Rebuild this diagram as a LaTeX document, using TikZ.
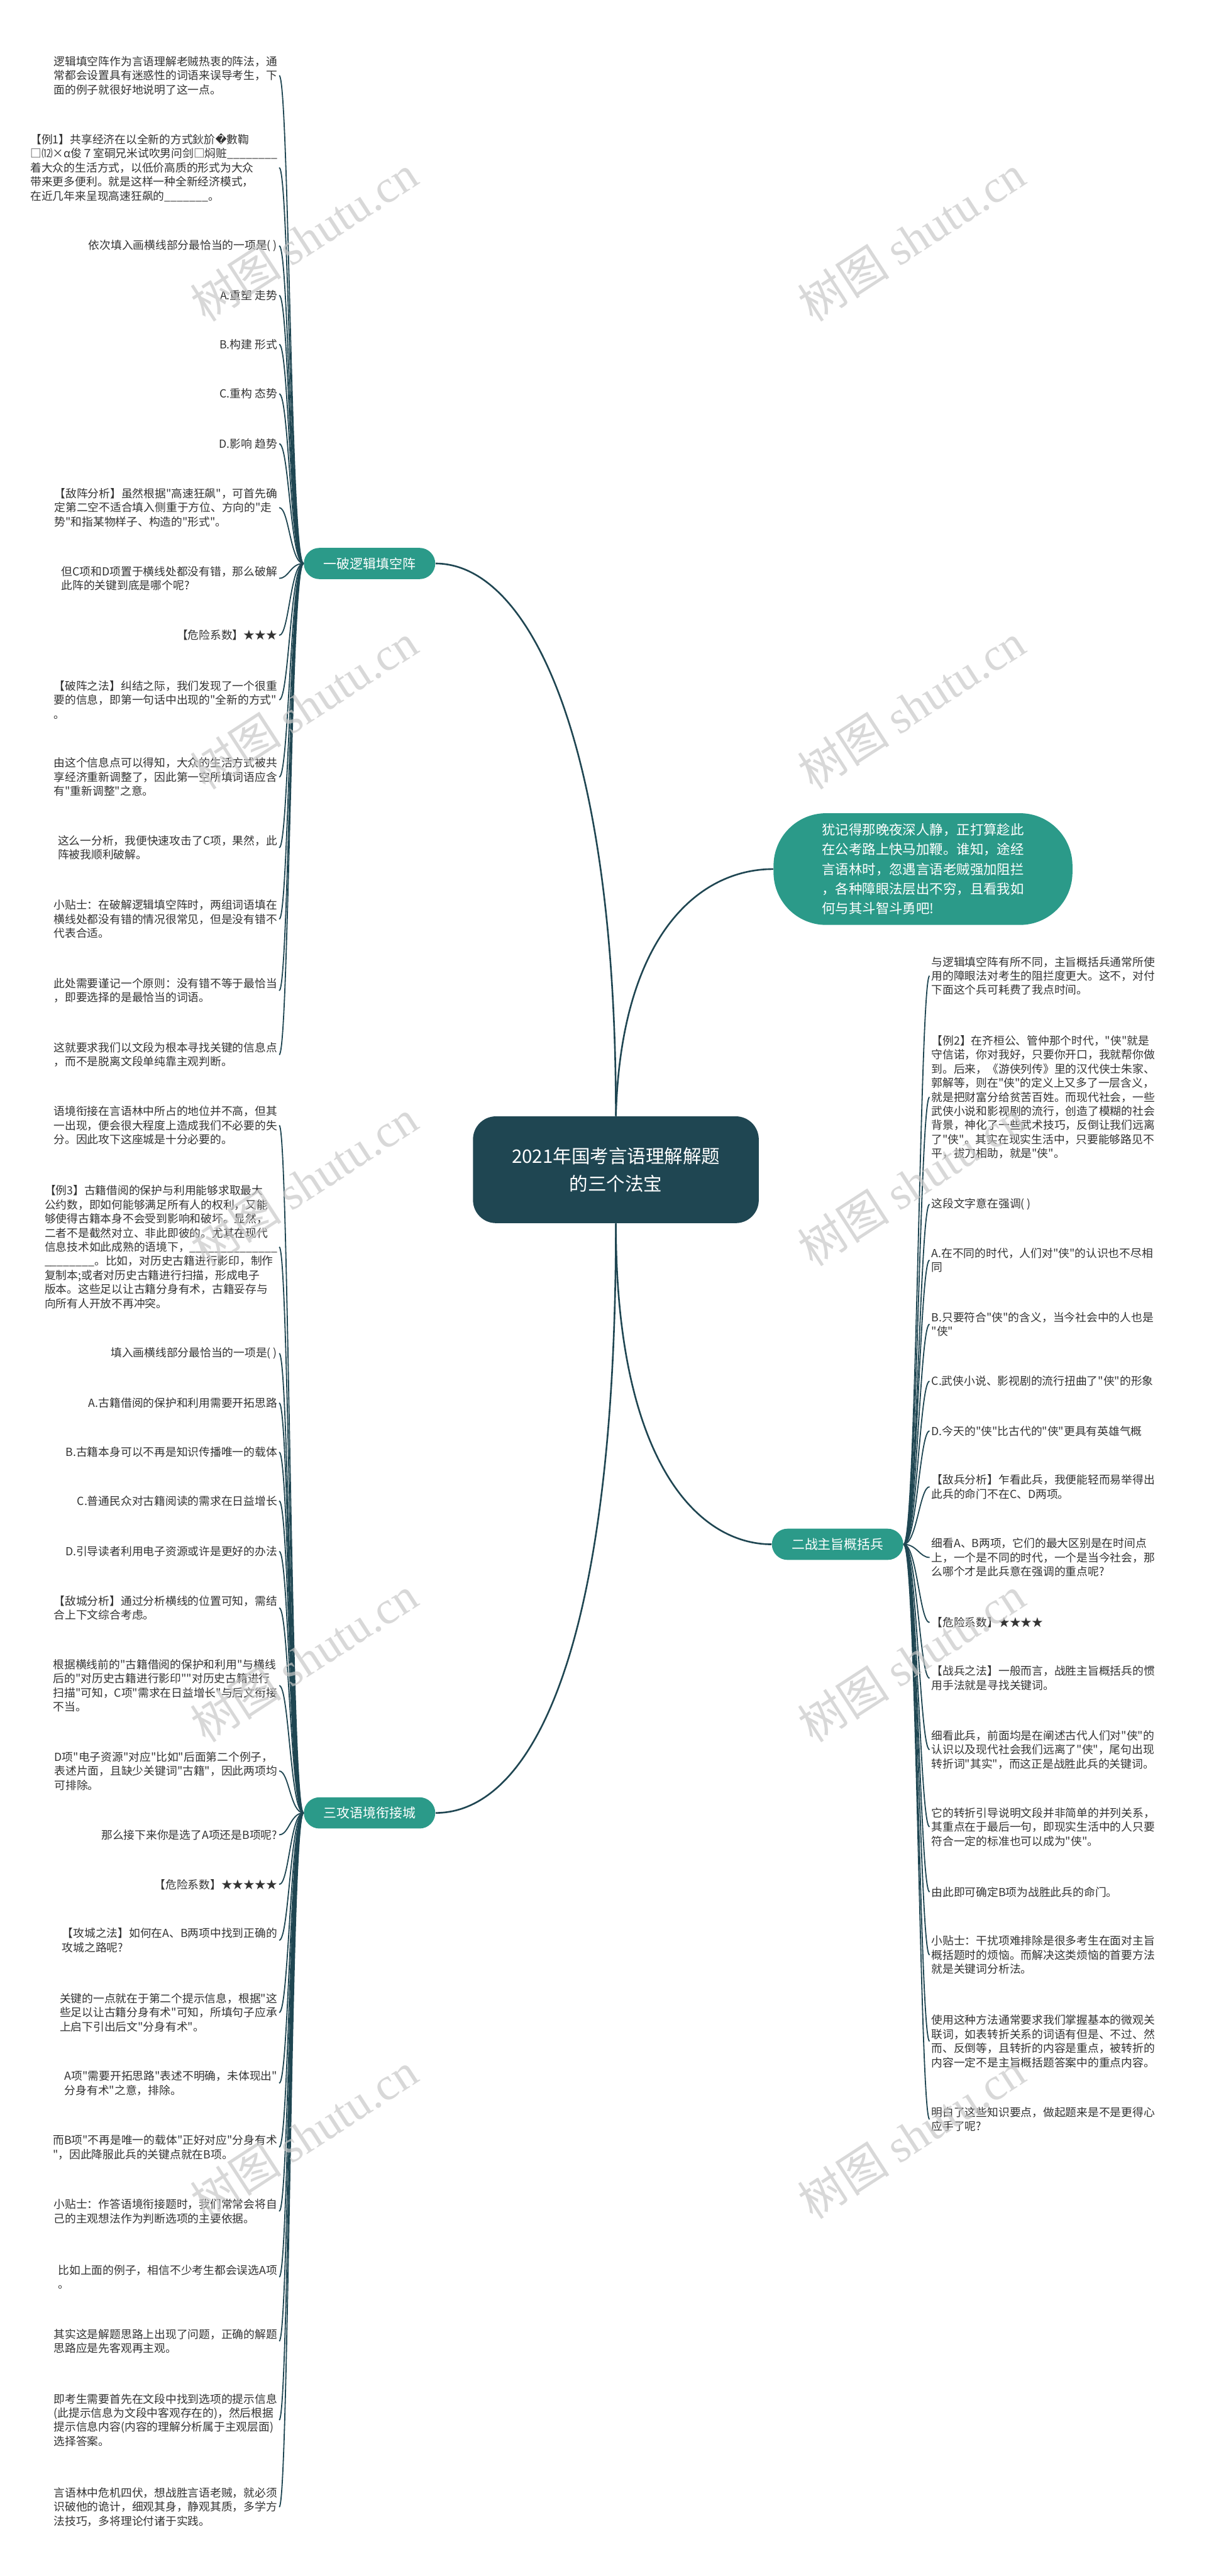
\documentclass[tikz,border=0pt]{standalone}
\usepackage{fontspec}
\setmainfont{Noto Sans CJK SC}
\newfontfamily\cjk{Noto Sans CJK SC}
\newfontfamily\dv{DejaVu Sans}
\newfontfamily\wmlat{Liberation Serif}
\usetikzlibrary{calc}
\definecolor{trunk}{HTML}{1F4652}
\definecolor{tealc}{HTML}{2B9A89}
\definecolor{txt}{HTML}{333333}
\definecolor{wm}{HTML}{C8C8C8}
\tikzset{
  leafL/.style={anchor=east, align=left, font=\cjk\fontsize{6.8}{8.6}\selectfont, text=txt, inner sep=1pt},
  leafR/.style={anchor=west, align=left, font=\cjk\fontsize{6.8}{8.6}\selectfont, text=txt, inner sep=1pt},
  twig/.style={draw=trunk, line width=0.7pt},
  limb/.style={draw=trunk, line width=1.0pt},
  pill/.style={fill=tealc, text=white, rounded corners=9.5pt, minimum height=19pt, minimum width=80pt, inner sep=0pt, font=\cjk\fontsize{8}{9}\selectfont},
  watermark/.style={text=wm, opacity=0.7, rotate=33, font=\cjk\fontsize{28}{30}\selectfont}
}
\newcommand\lleaf[4]{\node[leafL] (#2) at (170,#3) {#4};\draw[twig] (#1.west) .. controls +(-8,0) and +(6,0) .. (#2.east);}
\newcommand\rleaf[4]{\node[leafR] (#2) at (566,#3) {#4};\draw[twig] (#1.east) .. controls +(8,0) and +(-6,0) .. (#2.west);}
\newcommand\wmark[3]{\node[watermark] (#1) at (#2,#3) {树图 {\wmlat shutu.cn}};}
\begin{document}
\begin{tikzpicture}[x=1pt,y=-1pt]
\useasboundingbox (0,0) rectangle (736,1568);
\fill[white] (0,0) rectangle (736,1568);

% central node and branches
\node[fill=trunk, text=white, rounded corners=14pt, minimum width=174pt, minimum height=65pt, align=center, font=\cjk\fontsize{11.3}{17}\selectfont] (c) at (375,712) {2021年国考言语理解解题\\的三个法宝};
\node[pill] (b1) at (225,343) {一破逻辑填空阵};
\node[pill] (b2) at (510,940) {二战主旨概括兵};
\node[pill] (b3) at (225,1103.5) {三攻语境衔接城};
\node[fill=tealc, text=white, rounded corners=32pt, minimum width=182pt, minimum height=68pt, align=left, inner sep=0pt, font=\cjk\fontsize{8.2}{12}\selectfont] (bub) at (562,529) {犹记得那晚夜深人静，正打算趁此\\在公考路上快马加鞭。谁知，途经\\言语林时，忽遇言语老贼强加阻拦\\，各种障眼法层出不穷，且看我如\\何与其斗智斗勇吧!};

\draw[limb] (c.north) .. controls (375,450) and (322,343) .. (b1.east);
\draw[limb] (c.north) .. controls (378,570) and (425,529) .. (bub.west);
\draw[limb] (c.south) .. controls (375,890) and (425,940) .. (b2.west);
\draw[limb] (c.south) .. controls (375,1010) and (322,1103.5) .. (b3.east);

% branch 1 leaves
\lleaf{b1}{la}{46}{逻辑填空阵作为言语理解老贼热衷的阵法，通\\常都会设置具有迷惑性的词语来误导考生，下\\面的例子就很好地说明了这一点。}
\lleaf{b1}{lb}{102}{【例1】共享经济在以全新的方式鈥斺{\dv �}數鞫\\□⑿×α俊７室硐兄米试吹男问剑□焖赃\_\_\_\_\_\_\_\_\\着大众的生活方式，以低价高质的形式为大众\\带来更多便利。就是这样一种全新经济模式，\\在近几年来呈现高速狂飙的\_\_\_\_\_\_\_。}
\lleaf{b1}{lc}{149.6}{依次填入画横线部分最恰当的一项是( )}
\lleaf{b1}{ld}{179.8}{A.重塑 走势}
\lleaf{b1}{le}{209.6}{B.构建 形式}
\lleaf{b1}{lf}{239.7}{C.重构 态势}
\lleaf{b1}{lg}{270.1}{D.影响 趋势}
\lleaf{b1}{lh}{309}{【敌阵分析】虽然根据"高速狂飙"，可首先确\\定第二空不适合填入侧重于方位、方向的"走\\势"和指某物样子、构造的"形式"。}
\lleaf{b1}{li}{352}{但C项和D项置于横线处都没有错，那么破解\\此阵的关键到底是哪个呢?}
\lleaf{b1}{lj}{386.7}{【危险系数】★★★}
\lleaf{b1}{lk}{426}{【破阵之法】纠结之际，我们发现了一个很重\\要的信息，即第一句话中出现的"全新的方式"\\。}
\lleaf{b1}{ll}{473}{由这个信息点可以得知，大众的生活方式被共\\享经济重新调整了，因此第一空所填词语应含\\有"重新调整"之意。}
\lleaf{b1}{lm}{516}{这么一分析，我便快速攻击了C项，果然，此\\阵被我顺利破解。}
\lleaf{b1}{ln}{559.5}{小贴士：在破解逻辑填空阵时，两组词语填在\\横线处都没有错的情况很常见，但是没有错不\\代表合适。}
\lleaf{b1}{lo}{603}{此处需要谨记一个原则：没有错不等于最恰当\\，即要选择的是最恰当的词语。}
\lleaf{b1}{lp}{642}{这就要求我们以文段为根本寻找关键的信息点\\，而不是脱离文段单纯靠主观判断。}

% branch 3 leaves
\lleaf{b3}{ma}{685}{语境衔接在言语林中所占的地位并不高，但其\\一出现，便会很大程度上造成我们不必要的失\\分。因此攻下这座城是十分必要的。}
\lleaf{b3}{mb}{759}{【例3】古籍借阅的保护与利用能够求取最大\\公约数，即如何能够满足所有人的权利，又能\\够使得古籍本身不会受到影响和破坏。显然，\\二者不是截然对立、非此即彼的。尤其在现代\\信息技术如此成熟的语境下，\_\_\_\_\_\_\_\_\_\_\_\_\_\_\\\_\_\_\_\_\_\_\_。比如，对历史古籍进行影印，制作\\复制本;或者对历史古籍进行扫描，形成电子\\版本。这些足以让古籍分身有术，古籍妥存与\\向所有人开放不再冲突。}
\lleaf{b3}{mc}{823.8}{填入画横线部分最恰当的一项是( )}
\lleaf{b3}{md}{853.9}{A.古籍借阅的保护和利用需要开拓思路}
\lleaf{b3}{me}{883.9}{B.古籍本身可以不再是知识传播唯一的载体}
\lleaf{b3}{mf}{913.6}{C.普通民众对古籍阅读的需求在日益增长}
\lleaf{b3}{mg}{944.3}{D.引导读者利用电子资源或许是更好的办法}
\lleaf{b3}{mh}{978.7}{【敌城分析】通过分析横线的位置可知，需结\\合上下文综合考虑。}
\lleaf{b3}{mi}{1026}{根据横线前的"古籍借阅的保护和利用"与横线\\后的"对历史古籍进行影印""对历史古籍进行\\扫描"可知，C项"需求在日益增长"与后文衔接\\不当。}
\lleaf{b3}{mj}{1078}{D项"电子资源"对应"比如"后面第二个例子，\\表述片面，且缺少关键词"古籍"，因此两项均\\可排除。}
\lleaf{b3}{mk}{1116.8}{那么接下来你是选了A项还是B项呢?}
\lleaf{b3}{ml}{1147}{【危险系数】★★★★★}
\lleaf{b3}{mm}{1181}{【攻城之法】如何在A、B两项中找到正确的\\攻城之路呢?}
\lleaf{b3}{mn}{1225}{关键的一点就在于第二个提示信息，根据"这\\些足以让古籍分身有术"可知，所填句子应承\\上启下引出后文"分身有术"。}
\lleaf{b3}{mo}{1268}{A项"需要开拓思路"表述不明确，未体现出"\\分身有术"之意，排除。}
\lleaf{b3}{mp}{1307}{而B项"不再是唯一的载体"正好对应"分身有术\\"，因此降服此兵的关键点就在B项。}
\lleaf{b3}{mq}{1346}{小贴士：作答语境衔接题时，我们常常会将自\\己的主观想法作为判断选项的主要依据。}
\lleaf{b3}{mr}{1386}{比如上面的例子，相信不少考生都会误选A项\\。}
\lleaf{b3}{ms}{1425}{其实这是解题思路上出现了问题，正确的解题\\思路应是先客观再主观。}
\lleaf{b3}{mt}{1473}{即考生需要首先在文段中找到选项的提示信息\\(此提示信息为文段中客观存在的)，然后根据\\提示信息内容(内容的理解分析属于主观层面)\\选择答案。}
\lleaf{b3}{mu}{1526}{言语林中危机四伏，想战胜言语老贼，就必须\\识破他的诡计，细观其身，静观其质，多学方\\法技巧，多将理论付诸于实践。}

% branch 2 leaves
\rleaf{b2}{ra}{594}{与逻辑填空阵有所不同，主旨概括兵通常所使\\用的障眼法对考生的阻拦度更大。这不，对付\\下面这个兵可耗费了我点时间。}
\rleaf{b2}{rb}{667.8}{【例2】在齐桓公、管仲那个时代，"侠"就是\\守信诺，你对我好，只要你开口，我就帮你做\\到。后来，《游侠列传》里的汉代侠士朱家、\\郭解等，则在"侠"的定义上又多了一层含义，\\就是把财富分给贫苦百姓。而现代社会，一些\\武侠小说和影视剧的流行，创造了模糊的社会\\背景，神化了一些武术技巧，反倒让我们远离\\了"侠"。其实在现实生活中，只要能够路见不\\平，拔刀相助，就是"侠"。}
\rleaf{b2}{rc}{733}{这段文字意在强调( )}
\rleaf{b2}{rd}{767}{A.在不同的时代，人们对"侠"的认识也不尽相\\同}
\rleaf{b2}{re}{806}{B.只要符合"侠"的含义，当今社会中的人也是\\"侠"}
\rleaf{b2}{rf}{840.7}{C.武侠小说、影视剧的流行扭曲了"侠"的形象}
\rleaf{b2}{rg}{871}{D.今天的"侠"比古代的"侠"更具有英雄气概}
\rleaf{b2}{rh}{905}{【敌兵分析】乍看此兵，我便能轻而易举得出\\此兵的命门不在C、D两项。}
\rleaf{b2}{ri}{948}{细看A、B两项，它们的最大区别是在时间点\\上，一个是不同的时代，一个是当今社会，那\\么哪个才是此兵意在强调的重点呢?}
\rleaf{b2}{rj}{987.6}{【危险系数】★★★★}
\rleaf{b2}{rk}{1021.5}{【战兵之法】一般而言，战胜主旨概括兵的惯\\用手法就是寻找关键词。}
\rleaf{b2}{rl}{1065}{细看此兵，前面均是在阐述古代人们对"侠"的\\认识以及现代社会我们远离了"侠"，尾句出现\\转折词"其实"，而这正是战胜此兵的关键词。}
\rleaf{b2}{rm}{1112}{它的转折引导说明文段并非简单的并列关系，\\其重点在于最后一句，即现实生活中的人只要\\符合一定的标准也可以成为"侠"。}
\rleaf{b2}{rn}{1151.6}{由此即可确定B项为战胜此兵的命门。}
\rleaf{b2}{ro}{1190}{小贴士：干扰项难排除是很多考生在面对主旨\\概括题时的烦恼。而解决这类烦恼的首要方法\\就是关键词分析法。}
\rleaf{b2}{rp}{1242.5}{使用这种方法通常要求我们掌握基本的微观关\\联词，如表转折关系的词语有但是、不过、然\\而、反倒等，且转折的内容是重点，被转折的\\内容一定不是主旨概括题答案中的重点内容。}
\rleaf{b2}{rq}{1290}{明白了这些知识要点，做起题来是不是更得心\\应手了呢?}

% watermarks
\wmark{w1}{185}{145}
\wmark{w2}{555}{145}
\wmark{w3}{185}{430}
\wmark{w4}{555}{430}
\wmark{w5}{185}{720}
\wmark{w6}{555}{720}
\wmark{w7}{185}{1010}
\wmark{w8}{555}{1010}
\wmark{w9}{185}{1300}
\wmark{w10}{555}{1300}
\end{tikzpicture}
\end{document}
